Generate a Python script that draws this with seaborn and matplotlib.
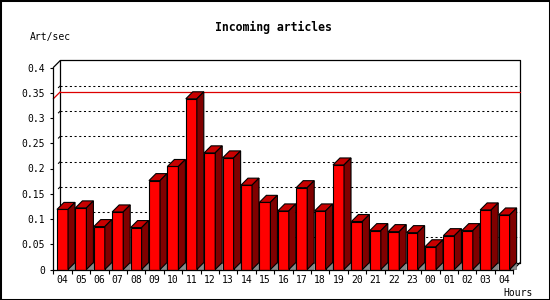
import numpy as np
import pandas as pd
import matplotlib
matplotlib.use("Agg")
import matplotlib.pyplot as plt
from matplotlib.patches import Polygon, Rectangle
import seaborn as sns

# ---- data ----
hours = ["04", "05", "06", "07", "08", "09", "10", "11", "12", "13", "14", "15",
         "16", "17", "18", "19", "20", "21", "22", "23", "00", "01", "02", "03", "04"]
rates = [0.119, 0.122, 0.085, 0.114, 0.083, 0.176, 0.204, 0.338, 0.231, 0.221,
         0.167, 0.133, 0.116, 0.162, 0.116, 0.207, 0.095, 0.077, 0.075, 0.073,
         0.045, 0.067, 0.077, 0.118, 0.108]
y_ticks = [0, 0.05, 0.1, 0.15, 0.2, 0.25, 0.3, 0.35, 0.4]
y_tick_labels = ["0", "0.05", "0.1", "0.15", "0.2", "0.25", "0.3", "0.35", "0.4"]
title = "Incoming articles"
y_title = "Art/sec"
x_title = "Hours"

df = pd.DataFrame({"slot": list(range(len(rates))), "rate": rates})

sns.set_theme(style="white")
plt.rcParams["font.family"] = ["DejaVu Sans Mono", "DejaVu Sans"]

W, H = 550, 300
fig = plt.figure(figsize=(W / 100, H / 100), dpi=100)
fig.patch.set_facecolor("white")

# axes in pixel layout (front plane)
ax_l, ax_r, ax_b, ax_t = 53.3, 513.3, 269.5, 67.5
ax = fig.add_axes([ax_l / W, 1 - ax_b / H, (ax_r - ax_l) / W, (ax_b - ax_t) / H])
ax.set_facecolor("none")

sns.barplot(data=df, x="slot", y="rate", color="#ff0000", saturation=1,
            width=0.6, edgecolor="black", linewidth=0.8, ax=ax, errorbar=None)

n = len(rates)
x0lim, x1lim = -0.5, n - 0.5
ax.set_xlim(x0lim, x1lim)
ax.set_ylim(0, 0.4)

# depth of 3D effect (pixels -> data units)
depth_px = 7.0
px_per_x = (ax_r - ax_l) / (x1lim - x0lim)
px_per_y = (ax_b - ax_t) / 0.4
dx = depth_px / px_per_x
dy = depth_px / px_per_y

# back plane frame
bk_l, bk_r = x0lim + dx, x1lim + dx
frame_kw = dict(color="black", lw=0.9, clip_on=False, zorder=1)
ax.plot([bk_l, bk_l, bk_r, bk_r], [dy, 0.4 + dy, 0.4 + dy, dy], **frame_kw)
ax.plot([bk_l, bk_r], [dy, dy], **frame_kw)
ax.plot([x0lim, bk_l], [0.4, 0.4 + dy], **frame_kw)
ax.plot([x1lim, bk_r], [0, dy], **frame_kw)

# dotted grid on the back plane + short marks on the left wall
for yv in y_ticks[1:-1]:
    ax.plot([bk_l, bk_r], [yv + dy, yv + dy], color="black", lw=0.75,
            ls=(0, (2, 2.5)), clip_on=False, zorder=1)
    ax.plot([bk_l, x0lim], [yv + dy, yv], color="black", lw=0.75,
            ls=(0, (3, 30)), clip_on=False, zorder=1)

# max line (red) on back plane
ymax = max(rates)
ax.plot([bk_l, bk_r], [ymax + dy, ymax + dy], color="#dd0000", lw=0.9,
        clip_on=False, zorder=1.5)
ax.plot([x0lim, bk_l], [ymax, ymax + dy], color="#dd0000", lw=0.9,
        clip_on=False, zorder=1.5)

# 3D sides of the bars
for i, p in enumerate(ax.patches):
    xl = p.get_x()
    w = p.get_width()
    h = p.get_height()
    xr = xl + w
    zo = 3 + i * 0.01
    p.set_zorder(zo)
    shadow = Polygon([(xr, 0), (xr + dx, dy), (xr + dx, 0)], closed=True,
                     facecolor="#8a8a8a", edgecolor="#6a6a6a", lw=0.5,
                     clip_on=False, zorder=zo - 0.005)
    top = Polygon([(xl, h), (xl + dx, h + dy), (xr + dx, h + dy), (xr, h)],
                  closed=True, facecolor="#c80000", edgecolor="black", lw=0.8,
                  clip_on=False, zorder=zo + 0.001)
    side = Polygon([(xr, 0), (xr, h), (xr + dx, h + dy), (xr + dx, dy)],
                   closed=True, facecolor="#800000", edgecolor="black", lw=0.8,
                   clip_on=False, zorder=zo + 0.002)
    ax.add_patch(shadow)
    ax.add_patch(top)
    ax.add_patch(side)

# axes styling
for s in ["top", "right"]:
    ax.spines[s].set_visible(False)
for s in ["left", "bottom"]:
    ax.spines[s].set_color("black")
    ax.spines[s].set_linewidth(0.9)
    ax.spines[s].set_zorder(5)

ax.set_yticks(y_ticks)
ax.set_yticklabels(y_tick_labels)
ax.set_xticks(range(n))
ax.set_xticklabels(hours)
ax.set_xticks(np.arange(n + 1) - 0.5, minor=True)
ax.tick_params(axis="y", which="major", direction="out", length=2.2, width=0.8,
               color="black", pad=3.6, labelsize=7, labelcolor="black", left=True)
ax.tick_params(axis="x", which="major", length=0, pad=4.0, labelsize=7,
               labelcolor="black", bottom=True)
ax.tick_params(axis="x", which="minor", direction="out", length=3.0, width=0.8,
               color="black", bottom=True)
ax.set_xlabel("")
ax.set_ylabel("")
ax.grid(False)

# texts
fig.text(273.5 / W, 1 - 27 / H, title, ha="center", va="center",
         fontsize=8.3, fontweight="bold", color="black")
fig.text(30 / W, 1 - 37 / H, y_title, ha="left", va="center", fontsize=7,
         color="black")
fig.text(533 / W, 1 - 292.5 / H, x_title, ha="right", va="center", fontsize=7,
         color="black")

# image frame
fig.patches.append(Rectangle((0, 0), 1, 1, transform=fig.transFigure,
                             fill=False, edgecolor="black", lw=2.2))

fig.savefig("out.png", dpi=100)
